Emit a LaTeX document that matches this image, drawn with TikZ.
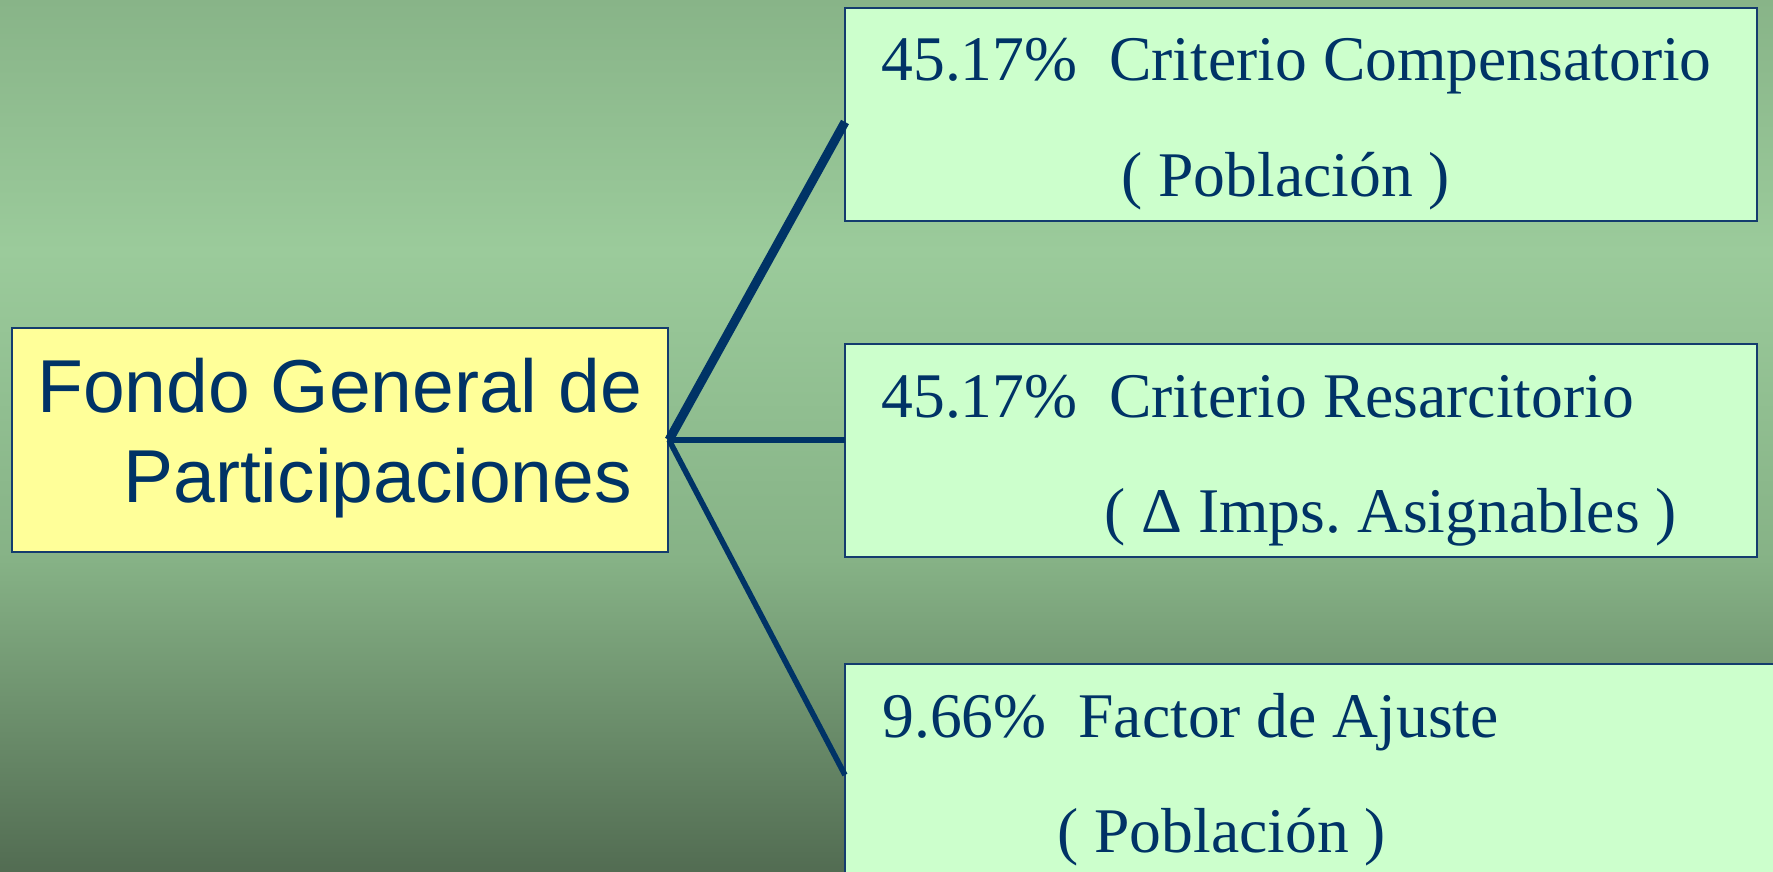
\documentclass[tikz,border=0pt]{standalone}
\usepackage{fontspec}
\setmainfont{Liberation Serif}
\newfontfamily\arialfont{Liberation Sans}
\definecolor{navy}{RGB}{0,51,102}
\definecolor{boxline}{RGB}{20,60,110}
\definecolor{bgA}{RGB}{136,180,136}
\definecolor{bgB}{RGB}{155,203,155}
\definecolor{bgC}{RGB}{134,178,134}
\definecolor{bgD}{RGB}{82,108,82}
\definecolor{greenfill}{RGB}{204,255,204}
\definecolor{yellowfill}{RGB}{255,255,153}
\begin{document}
\begin{tikzpicture}[x=0.5pt,y=-0.5pt,
  greenbox/.style={draw=boxline, line width=1pt, fill=greenfill, inner sep=0pt},
  yellowbox/.style={draw=boxline, line width=1pt, fill=yellowfill, inner sep=0pt},
  serifline/.style={anchor=base west, inner sep=0pt, text=navy, font=\fontsize{31.8}{38}\selectfont},
  sansline/.style={anchor=base west, inner sep=0pt, text=navy, font=\arialfont\fontsize{37.5}{45}\selectfont},
  thickconn/.style={draw=navy, line width=4.5pt},
  conn/.style={draw=navy, line width=2.8pt}]
\useasboundingbox (0,0) rectangle (1773,872);
\clip (0,0) rectangle (1773,872);
% background gradient
\shade[top color=bgA, bottom color=bgB] (0,0) rectangle (1773,252);
\shade[top color=bgB, bottom color=bgC] (0,250) rectangle (1773,562);
\shade[top color=bgC, bottom color=bgD] (0,560) rectangle (1773,872);
% boxes
\node[yellowbox, minimum width=328pt, minimum height=112pt] (fondo) at (340,440) {};
\node[greenbox, minimum width=456pt, minimum height=106.5pt] (b1) at (1301,114.5) {};
\node[greenbox, minimum width=456pt, minimum height=106.5pt] (b2) at (1301,450.5) {};
\node[greenbox, minimum width=472.5pt, minimum height=118pt] (b3) at (1317.5,782) {};
% connector end points on the box edges
\coordinate (e1) at (845,122);
\coordinate (e2) at (845,440);
\coordinate (e3) at (845,775);
\draw[thickconn] (fondo.east) -- (e1);
\draw[conn] (fondo.east) -- (e2);
\draw[conn] (fondo.east) -- (e3);
% texts
\node[sansline] (fA) at (37,412) {Fondo General de};
\node[sansline] (fB) at (123,502) {Participaciones};
\node[serifline] (t11) at (881,81) {45.17\%\ \ Criterio Compensatorio};
\node[serifline] (t12) at (1121,197) {( Población )};
\node[serifline] (t21) at (881,417) {45.17\%\ \ Criterio Resarcitorio};
\node[serifline] (t22) at (1104,532) {( Δ Imps.\ Asignables )};
\node[serifline] (t31) at (882,737) {9.66\%\ \ Factor de Ajuste};
\node[serifline] (t32) at (1057,852) {( Población )};
\end{tikzpicture}
\end{document}
